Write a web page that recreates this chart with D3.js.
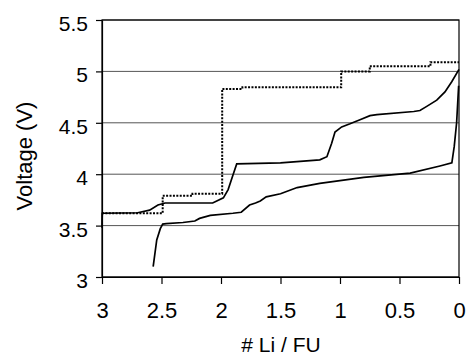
<!DOCTYPE html>
<html>
<head>
<meta charset="utf-8">
<script src="https://cdn.jsdelivr.net/npm/d3@7"></script>
<style>
  body { margin: 0; background: #fff; }
  svg { display: block; font-family: "Liberation Sans", Arial, sans-serif; }
</style>
</head>
<body>
<svg id="chart" width="468" height="355"></svg>
<script>
// charge curve (solid, goes up to 5 V)
const chargeLi = [3.0, 2.998, 2.70, 2.60, 2.53, 2.47, 2.07, 1.98, 1.94, 1.90, 1.868, 1.5, 1.17, 1.11, 1.07, 1.042, 0.986, 0.916, 0.832, 0.748, 0.69, 0.38, 0.328, 0.271, 0.187, 0.118, 0.061, 0.0];
const chargeV  = [3.48, 3.62, 3.625, 3.65, 3.70, 3.72, 3.72, 3.77, 3.85, 3.99, 4.10, 4.11, 4.14, 4.17, 4.30, 4.41, 4.46, 4.49, 4.53, 4.57, 4.58, 4.61, 4.62, 4.66, 4.72, 4.80, 4.90, 5.02];

// discharge curve (solid, from 0 down to ~2.57)
const dischargeLi = [0.003, 0.02, 0.04, 0.06, 0.16, 0.41, 0.80, 1.17, 1.36, 1.50, 1.62, 1.67, 1.71, 1.76, 1.83, 1.90, 2.09, 2.18, 2.22, 2.32, 2.46, 2.49, 2.51, 2.54, 2.57];
const dischargeV  = [4.86, 4.50, 4.27, 4.11, 4.08, 4.01, 3.97, 3.91, 3.87, 3.81, 3.78, 3.74, 3.72, 3.70, 3.63, 3.62, 3.60, 3.57, 3.545, 3.53, 3.52, 3.515, 3.47, 3.36, 3.10];

// calculated step curve (dotted)
const stepLi = [3.0, 2.49, 2.49, 2.24, 2.24, 1.99, 1.99, 1.82, 1.82, 0.99, 0.99, 0.75, 0.75, 0.24, 0.24, 0.0];
const stepV  = [3.62, 3.62, 3.79, 3.79, 3.81, 3.81, 4.83, 4.83, 4.845, 4.845, 5.0, 5.0, 5.05, 5.05, 5.09, 5.09];

const xTicks = [3, 2.5, 2, 1.5, 1, 0.5, 0];
const yTicks = [3, 3.5, 4, 4.5, 5, 5.5];

const svg = d3.select('#chart');
const width = +svg.attr('width');
const height = +svg.attr('height');
const margin = { top: 20, right: 9, bottom: 78, left: 102 };

const x = d3.scaleLinear().domain([3, 0]).range([margin.left, width - margin.right]);
const y = d3.scaleLinear().domain([3, 5.5]).range([height - margin.bottom, margin.top]);

// horizontal gridlines
svg.append('g')
    .selectAll('line')
    .data(yTicks)
    .join('line')
    .attr('x1', margin.left)
    .attr('x2', width - margin.right)
    .attr('y1', d => y(d))
    .attr('y2', d => y(d))
    .attr('stroke', '#555')
    .attr('stroke-width', 1);

// plot box
svg.append('rect')
    .attr('x', margin.left)
    .attr('y', margin.top)
    .attr('width', width - margin.left - margin.right)
    .attr('height', height - margin.top - margin.bottom)
    .attr('fill', 'none')
    .attr('stroke', '#000')
    .attr('stroke-width', 1.2);

const fmt = d => String(d);

const xAxis = svg.append('g')
    .attr('transform', `translate(0,${height - margin.bottom})`)
    .call(d3.axisBottom(x).tickValues(xTicks).tickFormat(fmt).tickSize(7).tickSizeOuter(0).tickPadding(18));

const yAxis = svg.append('g')
    .attr('transform', `translate(${margin.left},0)`)
    .call(d3.axisLeft(y).tickValues(yTicks).tickFormat(fmt).tickSize(6).tickSizeOuter(0).tickPadding(8));

[xAxis, yAxis].forEach(g => {
    g.select('.domain').attr('stroke', '#000').attr('stroke-width', 1.2);
    g.selectAll('.tick line').attr('stroke', '#000').attr('stroke-width', 1.2);
    g.selectAll('.tick text')
        .attr('fill', '#000')
        .style('font-family', '"Liberation Sans", Arial, sans-serif');
});
xAxis.selectAll('.tick text').style('font-size', '22px');
yAxis.selectAll('.tick text').style('font-size', '21px').attr('dy', '0.5em');

const line = d3.line()
    .x(d => x(d[0]))
    .y(d => y(d[1]));

svg.append('path')
    .datum(d3.zip(stepLi, stepV))
    .attr('fill', 'none')
    .attr('stroke', '#000')
    .attr('stroke-width', 2)
    .attr('stroke-dasharray', '2,1.4')
    .attr('d', line);

svg.append('path')
    .datum(d3.zip(chargeLi, chargeV))
    .attr('fill', 'none')
    .attr('stroke', '#000')
    .attr('stroke-width', 1.7)
    .attr('d', line);

svg.append('path')
    .datum(d3.zip(dischargeLi, dischargeV))
    .attr('fill', 'none')
    .attr('stroke', '#000')
    .attr('stroke-width', 1.7)
    .attr('d', line);

// axis titles
svg.append('text')
    .attr('x', 281)
    .attr('y', 351.5)
    .attr('text-anchor', 'middle')
    .style('font-size', '21px')
    .text('# Li / FU');

svg.append('text')
    .attr('transform', 'translate(31.5,156) rotate(-90)')
    .attr('text-anchor', 'middle')
    .style('font-size', '22px')
    .text('Voltage (V)');
</script>
</body>
</html>
